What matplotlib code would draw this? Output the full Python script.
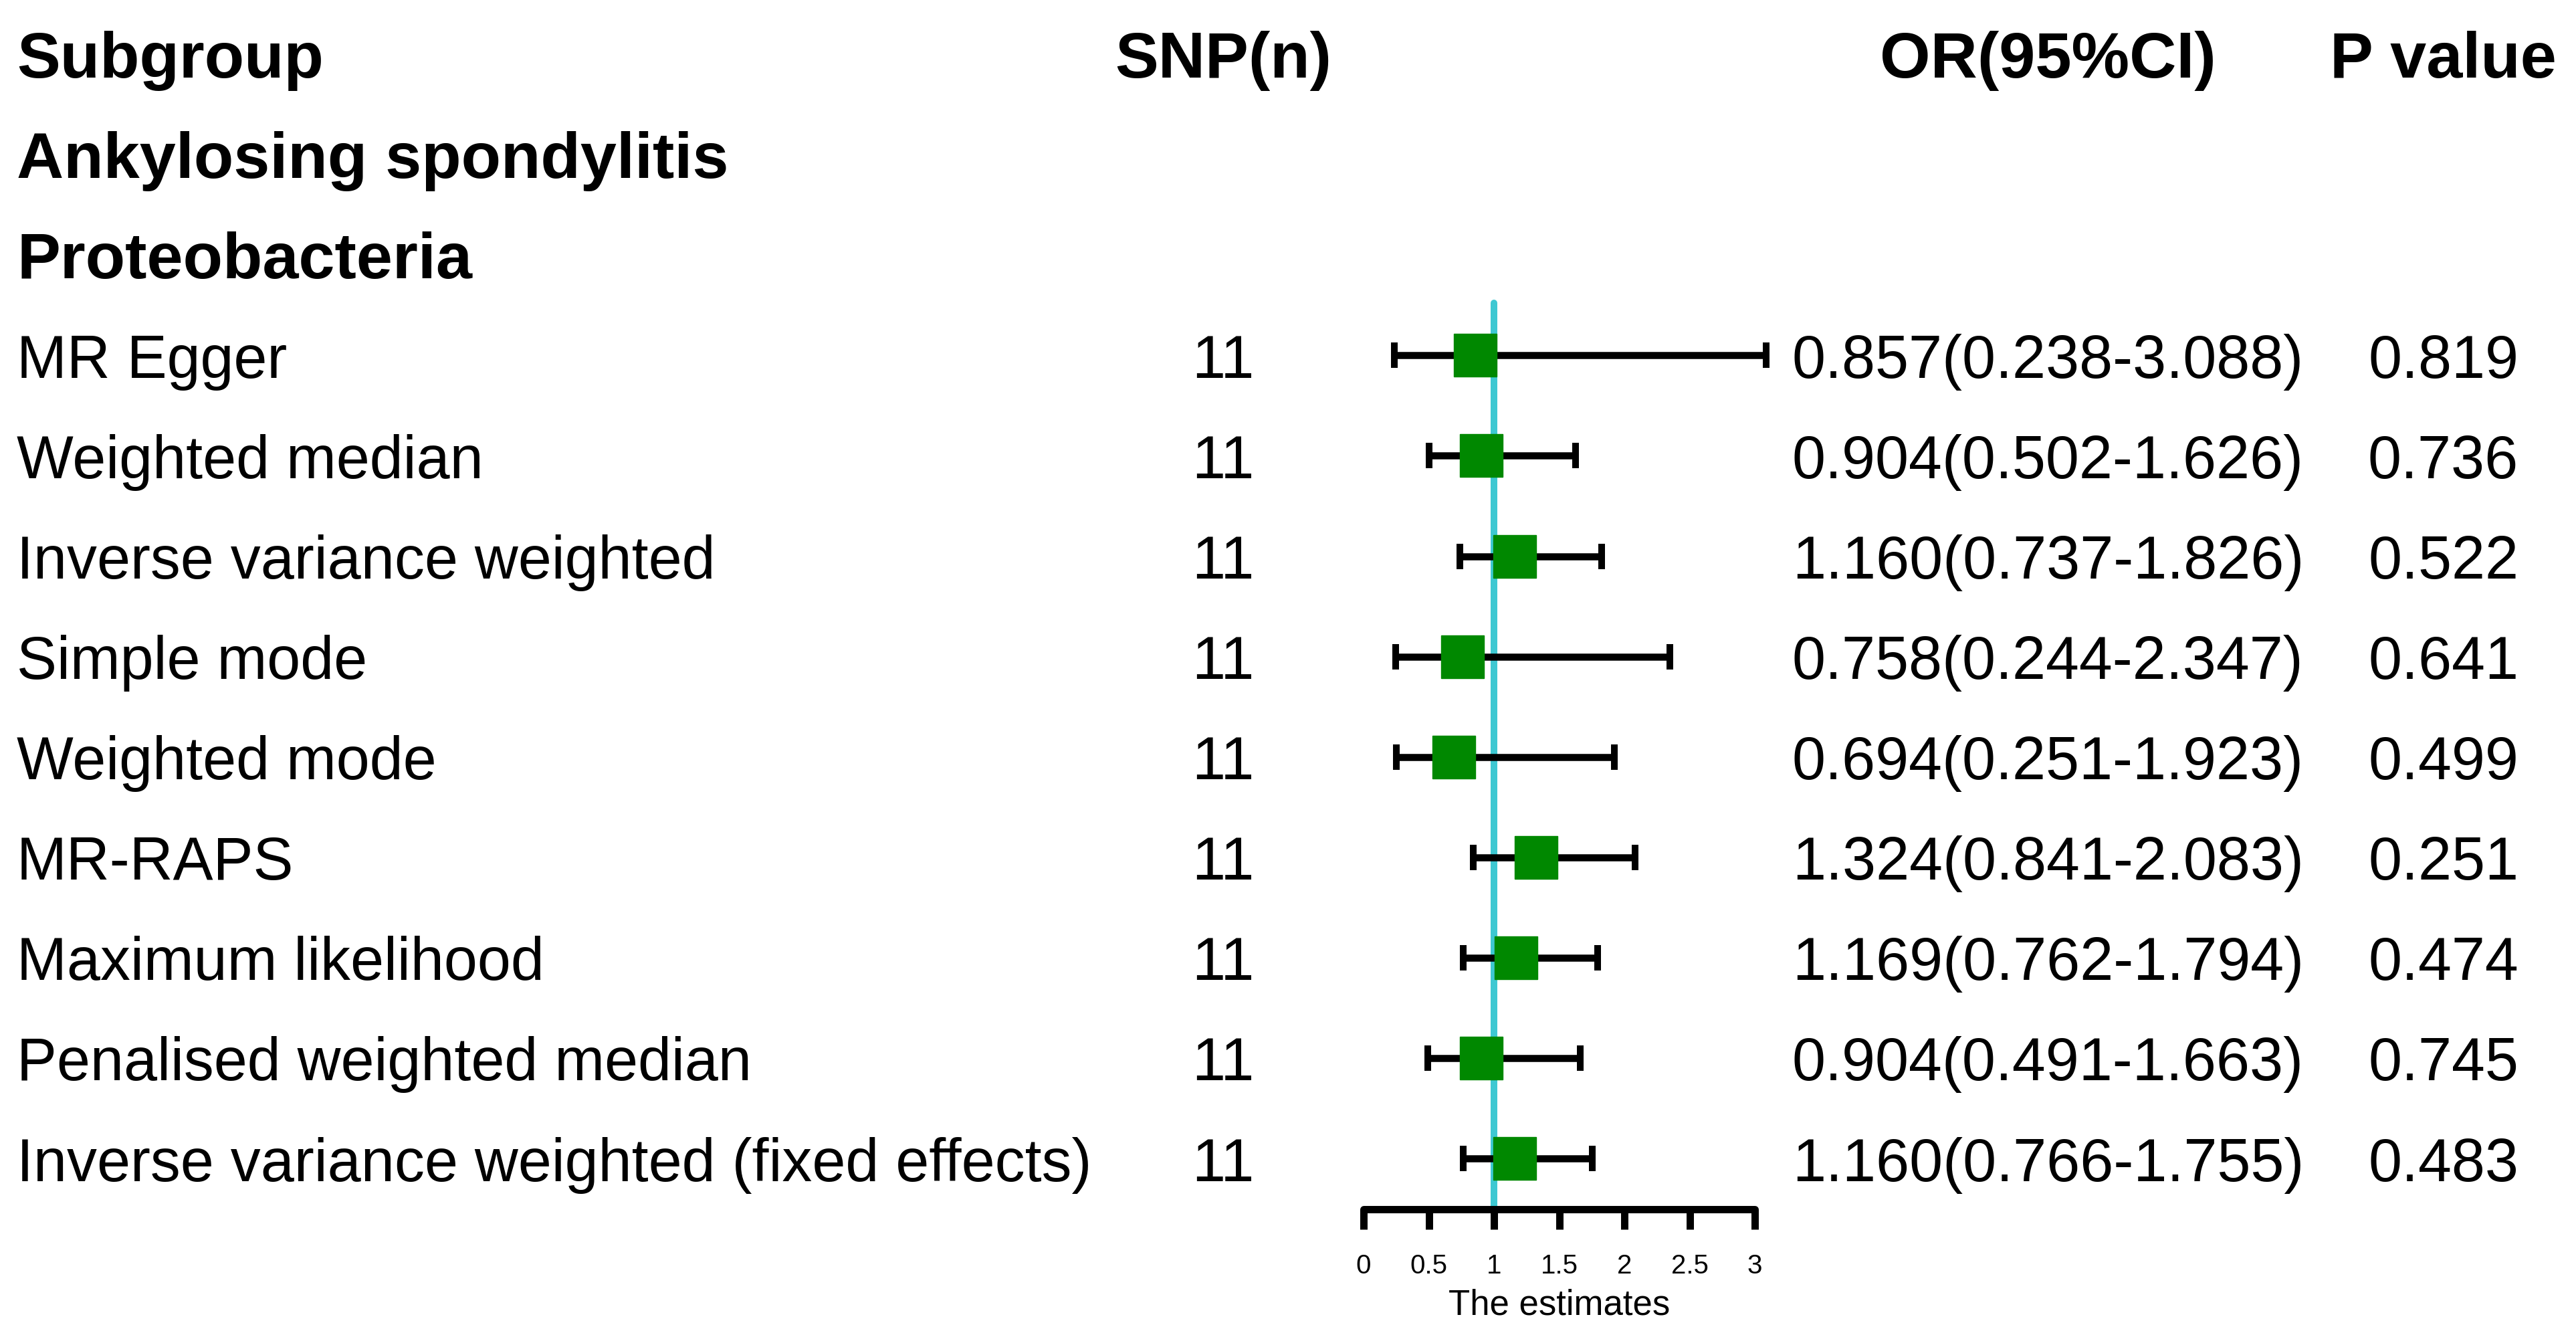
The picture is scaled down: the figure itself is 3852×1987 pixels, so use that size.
import numpy as np
import matplotlib
matplotlib.use('Agg')
import matplotlib.pyplot as plt
import matplotlib.transforms as mtransforms

plt.rcParams['font.family'] = ['Liberation Sans', 'DejaVu Sans']

# data
methods = ['MR Egger', 'Weighted median', 'Inverse variance weighted', 'Simple mode',
           'Weighted mode', 'MR-RAPS', 'Maximum likelihood', 'Penalised weighted median',
           'Inverse variance weighted (fixed effects)']
snp_n = [11, 11, 11, 11, 11, 11, 11, 11, 11]
or_est = [0.857, 0.904, 1.160, 0.758, 0.694, 1.324, 1.169, 0.904, 1.160]
ci_low = [0.238, 0.502, 0.737, 0.244, 0.251, 0.841, 0.762, 0.491, 0.766]
ci_high = [3.088, 1.626, 1.826, 2.347, 1.923, 2.083, 1.794, 1.663, 1.755]
p_vals = ['0.819', '0.736', '0.522', '0.641', '0.499', '0.251', '0.474', '0.745', '0.483']
x_ticks = [0, 0.5, 1, 1.5, 2, 2.5, 3]

headers = ['Subgroup', 'SNP(n)', 'OR(95%CI)', 'P value']
outcome = 'Ankylosing spondylitis'
exposure = 'Proteobacteria'

W, H = 3852, 1987
fig = plt.figure(figsize=(W / 100, H / 100), dpi=100)

# forest panel: x 0..3 spans pixel 2039..2624, axis line at pixel 1808
x0_px, x3_px, axis_px = 2039, 2624, 1808
row0_px, row_step = 81, 150.1
fax = fig.add_axes([x0_px / W, 1 - axis_px / H, (x3_px - x0_px) / W, axis_px / H])
fax.set_xlim(0, 3)
fax.set_ylim((axis_px - row0_px) / row_step, -row0_px / row_step)

rows = np.arange(len(methods)) + 3

# reference line at OR = 1
fax.vlines(1, rows[0] - 0.52, fax.get_ylim()[0], color='#3EC8D2', linewidth=7.2,
           zorder=1, clip_on=False, capstyle='round')

err = [np.array(or_est) - np.array(ci_low), np.array(ci_high) - np.array(or_est)]
fax.errorbar(or_est, rows, xerr=err, fmt='none', ecolor='black', elinewidth=7.6,
             capsize=14, capthick=7.2, zorder=2, clip_on=False)
fax.plot(or_est, rows, linestyle='none', marker='s', markersize=46.5,
         color='#008800', markeredgecolor='#008800', zorder=3, clip_on=False)

for sp in ['top', 'right', 'left']:
    fax.spines[sp].set_visible(False)
fax.spines['bottom'].set_linewidth(7.9)
fax.spines['bottom'].set_bounds(0, 3)
fax.spines['bottom'].set_capstyle('round')
fax.set_yticks([])
fax.set_xticks(x_ticks)
fax.set_xticklabels([f'{t:g}' for t in x_ticks])
fax.tick_params(axis='x', direction='out', length=21.6, width=7.9, pad=26, labelsize=29)
fax.set_xlabel('The estimates', fontsize=38, labelpad=10)
fax.patch.set_alpha(0)

# text columns (nudged down a little so the cap middle sits on the row)
trans = mtransforms.blended_transform_factory(fig.transFigure, fax.transData)
trans = mtransforms.offset_copy(trans, fig=fig, y=-10, units='dots')
col_sub, col_snp, col_or, col_p = 0.0065, 0.4748, 0.795, 0.9485

fax.text(col_sub, 0, headers[0], transform=trans, fontsize=70, fontweight='bold',
         ha='left', va='center', clip_on=False)
fax.text(col_snp, 0, headers[1], transform=trans, fontsize=70, fontweight='bold',
         ha='center', va='center', clip_on=False)
fax.text(col_or, 0, headers[2], transform=trans, fontsize=70, fontweight='bold',
         ha='center', va='center', clip_on=False)
fax.text(col_p, 0, headers[3], transform=trans, fontsize=70, fontweight='bold',
         ha='center', va='center', clip_on=False)
fax.text(col_sub, 1, outcome, transform=trans, fontsize=70, fontweight='bold',
         ha='left', va='center', clip_on=False)
fax.text(col_sub, 2, exposure, transform=trans, fontsize=70, fontweight='bold',
         ha='left', va='center', clip_on=False)

for i, r in enumerate(rows):
    fax.text(col_sub, r, methods[i], transform=trans, fontsize=64.7, ha='left', va='center', clip_on=False)
    fax.text(col_snp, r, str(snp_n[i]), transform=trans, fontsize=64.7, ha='center', va='center', clip_on=False)
    or_txt = f'{or_est[i]:.3f}({ci_low[i]:.3f}-{ci_high[i]:.3f})'
    fax.text(col_or, r, or_txt, transform=trans, fontsize=64.7, ha='center', va='center', clip_on=False)
    fax.text(col_p, r, p_vals[i], transform=trans, fontsize=64.7, ha='center', va='center', clip_on=False)

fig.savefig('out.png', dpi=100, facecolor='white')
plt.close(fig)
